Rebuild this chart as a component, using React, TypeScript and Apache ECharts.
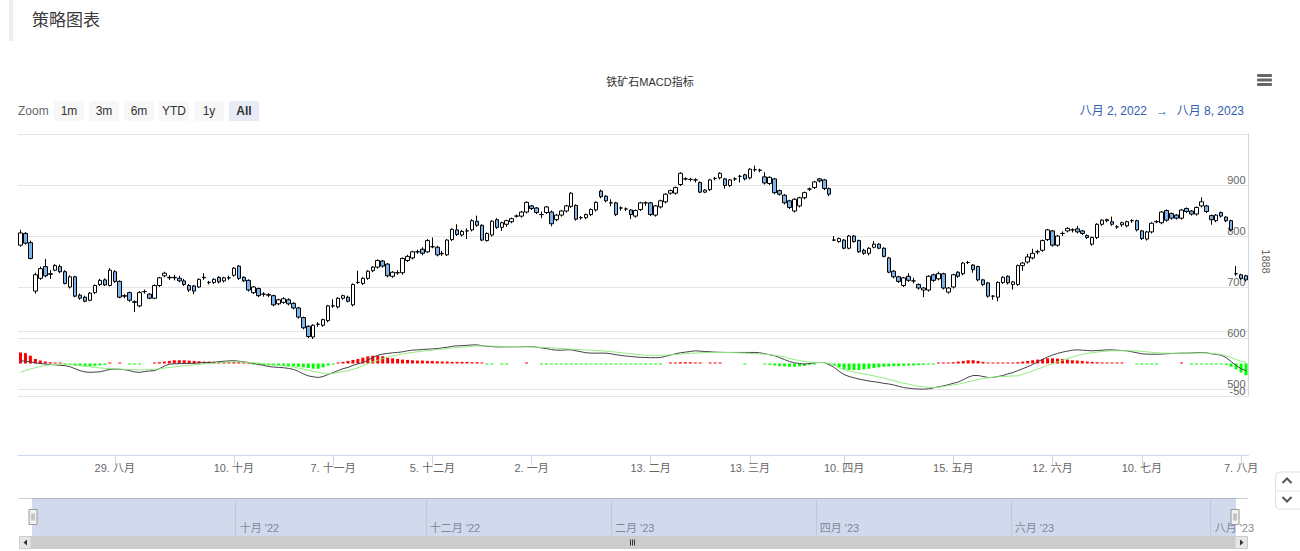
import React, { useEffect, useRef } from "react";
import * as echarts from "echarts";

// ---------- DATA ----------
const tradingMonths: [string, number[]][] = [
  ["2022-08", [2, 3, 4, 5, 8, 9, 10, 11, 12, 15, 16, 17, 18, 19, 22, 23, 24, 25, 26, 29, 30, 31]],
  ["2022-09", [1, 2, 5, 6, 7, 8, 9, 13, 14, 15, 16, 19, 20, 21, 22, 23, 26, 27, 28, 29, 30]],
  ["2022-10", [10, 11, 12, 13, 14, 17, 18, 19, 20, 21, 24, 25, 26, 27, 28, 31]],
  ["2022-11", [1, 2, 3, 4, 7, 8, 9, 10, 11, 14, 15, 16, 17, 18, 21, 22, 23, 24, 25, 28, 29, 30]],
  ["2022-12", [1, 2, 5, 6, 7, 8, 9, 12, 13, 14, 15, 16, 19, 20, 21, 22, 23, 26, 27, 28, 29, 30]],
  ["2023-01", [3, 4, 5, 6, 9, 10, 11, 12, 13, 16, 17, 18, 19, 20, 30, 31]],
  ["2023-02", [1, 2, 3, 6, 7, 8, 9, 10, 13, 14, 15, 16, 17, 20, 21, 22, 23, 24, 27, 28]],
  ["2023-03", [1, 2, 3, 6, 7, 8, 9, 10, 13, 14, 15, 16, 17, 20, 21, 22, 23, 24, 27, 28, 29, 30, 31]],
  ["2023-04", [3, 4, 6, 7, 10, 11, 12, 13, 14, 17, 18, 19, 20, 21, 24, 25, 26, 27, 28]],
  ["2023-05", [4, 5, 8, 9, 10, 11, 12, 15, 16, 17, 18, 19, 22, 23, 24, 25, 26, 29, 30, 31]],
  ["2023-06", [1, 2, 5, 6, 7, 8, 9, 12, 13, 14, 15, 16, 19, 20, 21, 26, 27, 28, 29, 30]],
  ["2023-07", [3, 4, 5, 6, 7, 10, 11, 12, 13, 14, 17, 18, 19, 20, 21, 24, 25, 26, 27, 28, 31]],
  ["2023-08", [1, 2, 3, 4, 7, 8]],
];

const xTickDates = ["2022-08-29", "2022-10-10", "2022-11-07", "2022-12-05", "2023-01-02", "2023-02-13", "2023-03-13", "2023-04-10", "2023-05-15", "2023-06-12", "2023-07-10", "2023-08-07"];
const xTickLabels = ["29. 八月", "10. 十月", "7. 十一月", "5. 十二月", "2. 一月", "13. 二月", "13. 三月", "10. 四月", "15. 五月", "12. 六月", "10. 七月", "7. 八月"];

const navTickDates = ["2022-10-01", "2022-12-01", "2023-02-01", "2023-04-01", "2023-06-01", "2023-08-01"];
const navTickLabels = ["十月 '22", "十二月 '22", "二月 '23", "四月 '23", "六月 '23", "八月 '23"];

const priceMin = 500;
const priceMax = 1000;
const priceStep = 100;
const macdMin = -50;
const macdMax = 50;

const zoomButtons = ["1m", "3m", "6m", "YTD", "1y", "All"];
const rangeFrom = "八月 2, 2022";
const rangeTo = "八月 8, 2023";

// [open, close, low, high]
const ohlc: number[][] = [
  [782, 806, 779, 812], [805, 786, 783, 808], [787, 756, 754, 791], [692, 724, 687, 728], [717, 736, 714, 740],
  [740, 722, 719, 755], [726, 725, 716, 733], [733, 742, 731, 745], [740, 730, 727, 744], [730, 707, 705, 733],
  [700, 720, 697, 723], [720, 682, 680, 722], [684, 678, 675, 687], [680, 672, 670, 683], [674, 688, 672, 690],
  [689, 703, 686, 705], [705, 713, 702, 716], [714, 704, 702, 717], [703, 733, 701, 737], [730, 711, 708, 733],
  [711, 680, 678, 713], [683, 682, 678, 686], [689, 674, 671, 691], [671, 670, 651, 674], [663, 689, 660, 692],
  [691, 691, 687, 695], [686, 678, 676, 688], [678, 703, 676, 705], [703, 718, 700, 720], [722, 727, 719, 730],
  [719, 718, 714, 723], [719, 718, 713, 724], [717, 712, 709, 722], [712, 705, 702, 716], [703, 694, 690, 706],
  [702, 692, 686, 704], [700, 715, 698, 717], [719, 718, 714, 727], [709, 709, 705, 712], [709, 715, 706, 717],
  [719, 710, 707, 721], [712, 718, 709, 720], [718, 718, 714, 722], [723, 737, 720, 739], [741, 717, 714, 743],
  [719, 712, 710, 721], [713, 694, 691, 715], [689, 700, 686, 702], [697, 683, 680, 699], [686, 686, 681, 690],
  [685, 684, 680, 688], [683, 665, 662, 685], [667, 675, 664, 677], [670, 677, 667, 680], [675, 667, 664, 678],
  [668, 659, 656, 670], [659, 641, 638, 661], [640, 620, 617, 642], [623, 603, 600, 625], [602, 625, 598, 627],
  [627, 627, 622, 631], [625, 636, 622, 638], [634, 663, 631, 665], [663, 663, 659, 676], [661, 678, 658, 680],
  [678, 683, 675, 685], [680, 672, 670, 683], [665, 705, 662, 707], [709, 709, 706, 732], [707, 717, 704, 719],
  [717, 731, 714, 733], [732, 739, 729, 741], [739, 752, 736, 754], [751, 741, 738, 753], [745, 722, 719, 747],
  [721, 729, 718, 731], [728, 728, 724, 733], [728, 756, 724, 758], [752, 760, 749, 763], [757, 769, 754, 771],
  [769, 769, 765, 773], [774, 766, 762, 778], [769, 791, 767, 794], [779, 779, 776, 797], [778, 763, 760, 781],
  [765, 766, 761, 771], [763, 792, 761, 794], [793, 813, 790, 815], [812, 803, 800, 823], [802, 809, 799, 812],
  [810, 810, 794, 815], [812, 830, 809, 833], [829, 821, 818, 840], [821, 792, 790, 823], [791, 805, 789, 807],
  [802, 829, 799, 831], [832, 817, 814, 835], [817, 826, 810, 828], [823, 830, 818, 832], [828, 834, 825, 836],
  [839, 839, 836, 842], [839, 847, 836, 849], [847, 866, 844, 868], [859, 854, 851, 861], [855, 846, 843, 857],
  [842, 842, 835, 848], [846, 857, 843, 859], [847, 824, 819, 850], [832, 841, 829, 843], [841, 849, 838, 851],
  [849, 859, 846, 861], [858, 884, 855, 886], [860, 833, 830, 862], [836, 836, 832, 839], [836, 842, 833, 844],
  [842, 852, 839, 854], [851, 866, 848, 868], [888, 877, 874, 891], [878, 869, 866, 880], [865, 865, 858, 872],
  [865, 842, 839, 867], [855, 855, 850, 858], [853, 853, 849, 856], [851, 842, 833, 853], [839, 850, 836, 852],
  [852, 865, 849, 867], [865, 865, 859, 868], [865, 842, 839, 867], [841, 859, 838, 861], [857, 869, 854, 871],
  [867, 882, 864, 884], [884, 889, 881, 891], [884, 895, 881, 897], [901, 923, 898, 925], [912, 912, 909, 915],
  [911, 911, 907, 914], [910, 910, 905, 913], [905, 886, 884, 907], [886, 890, 884, 892], [891, 910, 888, 912],
  [913, 913, 909, 916], [914, 923, 911, 925], [912, 899, 893, 914], [899, 910, 896, 912], [912, 912, 908, 915],
  [917, 917, 905, 920], [920, 912, 909, 922], [914, 931, 911, 933], [930, 930, 926, 938], [929, 929, 925, 932],
  [916, 904, 901, 925], [903, 915, 900, 917], [912, 885, 882, 914], [889, 882, 879, 891], [880, 865, 862, 882],
  [869, 856, 853, 871], [849, 872, 846, 874], [859, 875, 856, 877], [875, 885, 872, 887], [892, 892, 888, 895],
  [895, 906, 892, 908], [912, 908, 905, 914], [910, 893, 890, 912], [893, 882, 878, 895], [792, 792, 790, 800],
  [789, 795, 787, 797], [792, 776, 774, 794], [776, 800, 774, 802], [800, 789, 787, 802], [791, 769, 767, 793],
  [772, 766, 763, 775], [766, 776, 762, 778], [778, 784, 776, 790], [784, 776, 774, 786], [776, 760, 758, 778],
  [757, 729, 727, 759], [731, 720, 717, 733], [720, 711, 708, 722], [703, 718, 700, 720], [721, 713, 710, 727],
  [712, 712, 707, 718], [705, 698, 695, 707], [694, 698, 680, 700], [694, 721, 691, 723], [724, 713, 710, 726],
  [716, 726, 713, 730], [726, 698, 695, 728], [690, 698, 687, 700], [700, 724, 697, 726], [729, 721, 718, 731],
  [726, 747, 723, 749], [748, 748, 745, 751], [743, 734, 728, 745], [740, 714, 711, 742], [714, 705, 702, 716],
  [708, 682, 679, 710], [682, 682, 675, 684], [680, 709, 672, 711], [709, 719, 706, 721], [721, 708, 705, 723],
  [705, 710, 695, 712], [705, 742, 702, 744], [742, 747, 732, 749], [749, 759, 746, 765], [757, 766, 754, 775],
  [769, 769, 764, 773], [772, 791, 769, 793], [793, 812, 790, 814], [810, 782, 779, 812], [782, 800, 779, 802],
  [805, 805, 800, 809], [810, 815, 807, 817], [812, 812, 807, 815], [814, 808, 805, 820], [810, 805, 802, 812],
  [801, 797, 794, 803], [784, 797, 781, 799], [797, 823, 794, 825], [823, 831, 820, 833], [830, 832, 827, 834],
  [828, 823, 820, 838], [818, 818, 814, 821], [822, 826, 818, 828], [820, 828, 817, 830], [830, 830, 826, 833],
  [830, 812, 809, 832], [810, 795, 792, 812], [794, 808, 791, 810], [808, 825, 805, 827], [828, 828, 825, 831],
  [826, 847, 823, 849], [850, 831, 828, 852], [844, 835, 832, 846], [841, 835, 832, 843], [835, 851, 832, 853],
  [854, 848, 845, 856], [849, 843, 840, 851], [843, 856, 840, 858], [859, 867, 856, 876], [859, 848, 845, 861],
  [840, 832, 822, 842], [830, 841, 827, 843], [846, 839, 836, 848], [837, 830, 827, 839], [830, 812, 809, 832],
  [726, 726, 722, 741], [724, 717, 714, 726], [722, 714, 711, 724],
];

const dif: number[] = [
  4.3, 3.5, 2.5, 1, 0, -0.8, -1.5, -2, -2.8, -3.3,
  -5, -8, -11, -13, -13.6, -13.2, -12.8, -11, -9, -8.5,
  -9, -9.5, -11, -13, -13.6, -12.5, -11.5, -11, -8, -4,
  -1, -0.5, -0.3, 0, 0, 0.5, 1, 1.3, 1.5, 2,
  2.8, 3.5, 4, 4.3, 3.5, 2.5, 1.5, 0, -1.5, -3,
  -4.6, -5.5, -6, -6.5, -7.5, -9, -12, -16, -19, -20.5,
  -21.5, -20, -17, -14, -11, -8, -6, -3, -0.5, 1.5,
  5, 9, 12.5, 14.5, 15.5, 16.5, 17, 18, 19.5, 20.5,
  21, 21.5, 22, 22.5, 23, 24, 25, 26.5, 27.2, 27.5,
  28, 28.5, 28.7, 27.5, 26.3, 26, 25.5, 25.5, 25.6, 25.6,
  25.7, 25.8, 26, 26, 25, 24, 23, 21.5, 20.5, 20.5,
  21, 21, 19.5, 18, 16.5, 16, 15.9, 16, 15.9, 15,
  13.5, 12.5, 11.5, 10.8, 10, 9.5, 9.2, 9, 9, 9.2,
  11, 13, 15, 16.5, 17.5, 18.5, 19.5, 19, 18.5, 18,
  17.5, 17.2, 17, 17, 17, 17, 17, 17, 17, 16.5,
  15, 13.5, 12, 9, 6, 3, 1, 0, -1, 0,
  1, 1.5, 1.5, -2, -6, -12, -17, -20, -22, -24,
  -25.5, -27, -28, -29, -30.5, -31.5, -33, -35, -37, -38,
  -38.8, -39.3, -39.5, -39, -37.5, -36, -34.4, -32.5, -30.5, -28.5,
  -25, -21, -18.5, -18.5, -20, -21.5, -21.5, -20, -18.5, -16,
  -14, -11, -8, -5, -1.5, 2.5, 6.5, 10, 13, 15.5,
  17.5, 19, 20.5, 21, 20.5, 20, 19.5, 20, 20.5, 21,
  21, 20.5, 20, 19.5, 18, 16.5, 15, 14.4, 14.2, 14.3,
  14.4, 15, 15.3, 15.6, 16, 16, 16.3, 16.7, 17, 16.5,
  15, 14, 12.8, 9, 3, -3, -8, -11,
];

const dea: number[] = [
  -13.6, -11, -8.5, -6.5, -4.6, -3.2, -2, -1.5, -1, -1.2,
  -1.8, -2.5, -3.2, -4, -5, -6, -6.8, -7.5, -7.8, -8.2,
  -8.6, -9, -9.3, -9.6, -9.8, -9.7, -9.3, -9, -8.3, -7,
  -6, -5.2, -4.4, -3.6, -2.8, -2, -1.2, -0.5, 0, 0.6,
  1.2, 1.8, 2.3, 2.6, 2.5, 2.2, 1.8, 1.2, 0.5, -0.5,
  -1.2, -2, -2.8, -3.5, -4.3, -5.5, -7, -8.5, -10.5, -12,
  -13.6, -15, -16, -15.5, -14, -12.5, -11, -9, -6.5, -3.5,
  -0.5, 2.5, 5, 7.5, 9.5, 11.5, 13, 14.5, 15.8, 17,
  18, 19, 19.8, 20.6, 21.5, 22.3, 23, 23.8, 24.5, 25.2,
  25.8, 26.5, 27, 27, 26.9, 26.8, 26.6, 26.4, 26.2, 26.1,
  26, 25.8, 25.6, 25.4, 25.1, 24.8, 24.5, 24.1, 23.5, 23,
  22.6, 22.2, 21.7, 21.3, 20.8, 20.4, 20, 19.5, 19, 18.3,
  17.5, 16.7, 15.9, 15, 14.2, 13.5, 12.8, 12.6, 12.5, 12.6,
  13, 13.4, 13.8, 14.4, 15, 15.6, 16, 16.4, 16.7, 16.9,
  17, 17, 17, 16.8, 16.6, 16.3, 16, 15.6, 15.2, 14.8,
  14.4, 13.5, 12.5, 11.3, 10, 7.5, 6, 4.5, 3.2, 2.2,
  1.7, 1.5, 1.2, 0, -2.5, -6.5, -9.5, -11.5, -13.2, -14.8,
  -16.3, -17.5, -19, -20.8, -22.5, -24.5, -26.5, -28.5, -30.5, -31.8,
  -33.5, -35, -36, -36.6, -37, -36.5, -35.3, -34.2, -33, -31.8,
  -30, -28.2, -26.5, -25, -23, -22, -21, -20.5, -20, -19.5,
  -19.2, -19, -16.5, -14, -11, -8.5, -6, -3, -0.5, 2.5,
  5, 7.5, 10, 12, 14, 15.5, 16.7, 17.6, 18.4, 19,
  19.5, 19.6, 19.6, 19.6, 19.5, 19.3, 18.8, 18, 17.2, 16.5,
  16, 15.9, 15.8, 15.8, 15.8, 15.9, 16, 16.1, 16.2, 16.1,
  15.6, 14.8, 13.8, 12, 9, 6, 3.5, 1.5,
];

const hist: number[] = [
  17, 16, 12, 7, 4.6, 3, 2, 1.5, 1, -1,
  -2, -3, -4, -4.5, -4, -3.5, -3, -2, 1, 0,
  1, 0, -1, -1, -1, 0, 0, 1, 2, 3,
  4, 5, 5, 5, 4.5, 4, 3.5, 3, 3, 2.5,
  2.5, 2.5, 2, 2, 2, 1.5, 0.5, -1, -2, -2.5,
  -3, -3, -3, -3.5, -4, -4.5, -5, -6, -7, -8,
  -8, -6, -3, -1, 1, 2.5, 4, 5.5, 7, 9,
  11, 12, 12, 11, 9, 8, 7, 6, 5.5, 5,
  4.5, 4.5, 4, 4, 3.5, 3, 3, 2.5, 2.5, 2.5,
  2.5, 2, 2, 0.5, -0.5, -0.5, 0, -0.5, -0.5, 0,
  0, 0, 0.5, 0, 0, -0.5, -1, -1, -1, -1,
  -0.5, -1, -1.5, -1.5, -1, -1, -1, -1, -1.5, -1.5,
  -1.5, -1.5, -1, -1, -1, -1, -1.5, -1.5, -1, -1,
  0, 1, 1.5, 2, 2, 2, 1.5, 1, 0, 1,
  1, 1, 0, 0, 0, 0, -0.5, 0, 0, 0,
  -1, -2, -3, -4, -4.5, -5, -5, -4.5, -3.5, -2,
  -1, 0, 0, -1, -3, -6, -9, -10, -10, -10,
  -9, -8, -7, -6, -5, -4.5, -4, -4, -3.5, -3,
  -3, -2.5, -2, -1.5, -1, 0.5, 1, 1.5, 2, 3,
  4, 5, 5, 4, 2.5, 1, 0.5, 0.5, 0.5, 1,
  1.5, 2, 3, 4, 5, 6, 7, 8, 8, 7.5,
  7, 6, 5, 4.5, 4, 3, 2.5, 2, 1.5, 1,
  1, 1, 0.5, 0, 0, -1, -1.5, -1.5, -1, -1,
  0, 0, 0, 0, 0.5, 0, -0.5, -0.5, -0.5, -1,
  -1, -1, -1.5, -2, -5, -9, -14, -18,
];

// ---------- DERIVED ----------
const categories: string[] = tradingMonths.flatMap(([m, days]) =>
  days.map((d) => `${m}-${String(d).padStart(2, "0")}`)
);

const xTickMap = new Map<number, string>();
xTickDates.forEach((d, i) => {
  const idx = categories.findIndex((c) => c >= d);
  if (idx >= 0) xTickMap.set(idx, xTickLabels[i]);
});

const navTickMap = new Map<number, string>();
navTickDates.forEach((d, i) => {
  const nextIdx = categories.findIndex((c) => c > d);
  const idx = nextIdx === -1 ? categories.length - 1 : nextIdx - 1;
  navTickMap.set(idx, navTickLabels[i]);
});

const FONT = '"Liberation Sans", Arial, "Noto Sans CJK SC", sans-serif';

function buildOption(): any {
  const plotLeft = 18;
  const plotWidth = 1230.5;
  const graphic: any[] = [
    { type: "rect", silent: true, shape: { x: 9, y: 0, width: 4, height: 41 }, style: { fill: "#eeeeee" } },
    ...[74, 78.5, 83].map((y) => ({
      type: "rect", silent: true, shape: { x: 1257, y, width: 15, height: 3, r: 1 }, style: { fill: "#666666" },
    })),
    { type: "text", silent: true, style: { text: "Zoom", x: 18, y: 111, fill: "#666666", font: `12px ${FONT}`, verticalAlign: "middle" } },
    ...zoomButtons.map((b, i) => ({
      type: "group",
      children: [
        { type: "rect", silent: true, shape: { x: 54 + 35 * i, y: 101, width: 30, height: 20, r: 2 }, style: { fill: i === zoomButtons.length - 1 ? "#e6ebf5" : "#f7f7f7" } },
        {
          type: "text", silent: true,
          style: {
            text: b, x: 69 + 35 * i, y: 111, align: "center", verticalAlign: "middle", fill: "#333333",
            font: `${i === zoomButtons.length - 1 ? "bold " : ""}12px ${FONT}`,
          },
        },
      ],
    })),
    { type: "text", silent: true, style: { text: rangeFrom, x: 1147, y: 111, align: "right", verticalAlign: "middle", fill: "#335cad", font: `12px ${FONT}` } },
    { type: "text", silent: true, style: { text: "→", x: 1162, y: 111, align: "center", verticalAlign: "middle", fill: "#335cad", font: `12px ${FONT}` } },
    { type: "text", silent: true, style: { text: rangeTo, x: 1244, y: 111, align: "right", verticalAlign: "middle", fill: "#335cad", font: `12px ${FONT}` } },
    // navigator outline
    { type: "line", silent: true, shape: { x1: 19, y1: 498.5, x2: 1248, y2: 498.5 }, style: { stroke: "#cccccc", lineWidth: 1 } },
    // scrollbar
    { type: "rect", silent: true, shape: { x: 19, y: 536, width: 1229, height: 13 }, style: { fill: "#f2f2f2" } },
    { type: "rect", silent: true, shape: { x: 31, y: 536, width: 1204, height: 13 }, style: { fill: "#cccccc" } },
    { type: "rect", silent: true, shape: { x: 19.5, y: 536.5, width: 11.5, height: 12 }, style: { fill: "#e6e6e6", stroke: "#cccccc", lineWidth: 1 } },
    { type: "polygon", silent: true, shape: { points: [[27, 539.5], [27, 545.5], [23.5, 542.5]] }, style: { fill: "#333333" } },
    { type: "rect", silent: true, shape: { x: 1235, y: 536.5, width: 12.5, height: 12 }, style: { fill: "#e6e6e6", stroke: "#cccccc", lineWidth: 1 } },
    { type: "polygon", silent: true, shape: { points: [[1240, 539.5], [1240, 545.5], [1243.5, 542.5]] }, style: { fill: "#333333" } },
    ...[630.5, 632.5, 634.5].map((x) => ({
      type: "line", silent: true, shape: { x1: x, y1: 539.5, x2: x, y2: 545.5 }, style: { stroke: "#333333", lineWidth: 1 },
    })),
    // page scroll widget
    { type: "rect", silent: true, shape: { x: 1275.5, y: 472, width: 30, height: 37, r: 4 }, style: { fill: "#ffffff", stroke: "#e0e0e0", lineWidth: 1 } },
    { type: "line", silent: true, shape: { x1: 1275.5, y1: 491, x2: 1300, y2: 491 }, style: { stroke: "#e6e6e6", lineWidth: 1 } },
    { type: "polyline", silent: true, shape: { points: [[1282.5, 483], [1287, 478.5], [1291.5, 483]] }, style: { stroke: "#555555", lineWidth: 2, fill: null } },
    { type: "polyline", silent: true, shape: { points: [[1282.5, 497], [1287, 501.5], [1291.5, 497]] }, style: { stroke: "#555555", lineWidth: 2, fill: null } },
  ];

  return {
    animation: false,
    backgroundColor: "#ffffff",
    textStyle: { fontFamily: FONT },
    title: [
      { text: "策略图表", left: 27, top: 7, textStyle: { fontSize: 17, fontWeight: "normal", color: "#3a3a3a", fontFamily: FONT } },
      { text: "铁矿石MACD指标", left: "center", top: 71, textStyle: { fontSize: 11, fontWeight: "normal", color: "#333333", fontFamily: FONT } },
    ],
    grid: [
      { left: plotLeft, top: 134, width: plotWidth, height: 255 },
      { left: plotLeft, top: 331, width: plotWidth, height: 65 },
      { left: 31, top: 498, width: 1204, height: 38 },
    ],
    xAxis: [
      { type: "category", gridIndex: 0, data: categories, show: false },
      {
        type: "category", gridIndex: 1, data: categories, offset: 59, position: "bottom",
        axisLine: { show: true, onZero: false, lineStyle: { color: "#ccd6eb", width: 1 } },
        axisTick: { show: true, interval: (i: number) => xTickMap.has(i), alignWithLabel: true, length: 10, lineStyle: { color: "#ccd6eb" } },
        axisLabel: {
          interval: (i: number) => xTickMap.has(i),
          formatter: (_v: string, i: number) => xTickMap.get(i) ?? "",
          color: "#666666", fontSize: 11, margin: 7, fontFamily: FONT,
        },
        splitLine: { show: false },
      },
      {
        type: "category", gridIndex: 2, data: categories, boundaryGap: false,
        axisLine: { show: false }, axisTick: { show: false },
        axisLabel: {
          inside: true, interval: (i: number) => navTickMap.has(i),
          formatter: (_v: string, i: number) => navTickMap.get(i) ?? "",
          align: "left", verticalAlign: "bottom", margin: 3, padding: [0, 0, 0, 4],
          color: "#8a8a8a", fontSize: 11, fontFamily: FONT,
        },
        splitLine: { show: true, interval: (i: number) => navTickMap.has(i), lineStyle: { color: "#e6e6e6", width: 1 } },
      },
    ],
    yAxis: [
      {
        type: "value", gridIndex: 0, position: "right", min: priceMin, max: priceMax, interval: priceStep,
        axisLine: { show: true, lineStyle: { color: "#ccd6eb" } }, axisTick: { show: false },
        splitLine: { lineStyle: { color: "#e6e6e6" } },
        axisLabel: {
          inside: true, margin: 3, verticalAlign: "bottom", color: "#666666", fontSize: 11, fontFamily: FONT,
          formatter: (v: number) => (v === priceMax ? "" : String(v)),
        },
        name: "1888", nameLocation: "middle", nameRotate: -90, nameGap: 12,
        nameTextStyle: { color: "#666666", fontSize: 11, fontFamily: FONT },
      },
      {
        type: "value", gridIndex: 1, position: "right", min: macdMin, max: macdMax, interval: macdMax - macdMin,
        axisLine: { show: true, lineStyle: { color: "#ccd6eb" } }, axisTick: { show: false },
        splitLine: { lineStyle: { color: "#e6e6e6" } },
        axisLabel: {
          inside: true, margin: 3, verticalAlign: "bottom", color: "#666666", fontSize: 11, fontFamily: FONT,
          formatter: (v: number) => (v === macdMin ? String(v) : ""),
        },
      },
      { type: "value", gridIndex: 2, show: false },
    ],
    dataZoom: [
      {
        type: "slider", xAxisIndex: [0, 1, 2], filterMode: "none", start: 0, end: 100,
        left: 31, right: 65, top: 498, height: 38,
        backgroundColor: "transparent", borderColor: "transparent",
        fillerColor: "rgba(102,133,194,0.3)",
        showDataShadow: false, showDetail: false, brushSelect: false, moveHandleSize: 0,
        dataBackground: { lineStyle: { opacity: 0 }, areaStyle: { opacity: 0 } },
        selectedDataBackground: { lineStyle: { opacity: 0 }, areaStyle: { opacity: 0 } },
        handleIcon: "path://M0,0 h8 v15 h-8 Z M3,4 v7 M5,4 v7",
        handleSize: 15,
        handleStyle: { color: "#f2f2f2", borderColor: "#999999", borderWidth: 1 },
        moveHandleStyle: { opacity: 0 },
        emphasis: { handleStyle: { color: "#f2f2f2", borderColor: "#999999" }, moveHandleStyle: { opacity: 0 } },
      },
    ],
    series: [
      {
        type: "candlestick", name: "1888", xAxisIndex: 0, yAxisIndex: 0, data: ohlc, barWidth: 4,
        itemStyle: { color: "#ffffff", color0: "#7cb5ec", borderColor: "#000000", borderColor0: "#000000", borderWidth: 1 },
      },
      {
        type: "bar", name: "MACD", xAxisIndex: 1, yAxisIndex: 1, barWidth: 3, barMinHeight: 1,
        data: hist.map((v) => (v === 0 ? null : { value: v, itemStyle: { color: v > 0 ? "#ff0000" : "#00ff00" } })),
      },
      {
        type: "line", name: "DIF", xAxisIndex: 1, yAxisIndex: 1, data: dif, symbol: "none",
        lineStyle: { color: "#434348", width: 1 },
      },
      {
        type: "line", name: "DEA", xAxisIndex: 1, yAxisIndex: 1, data: dea, symbol: "none",
        lineStyle: { color: "#90ed7d", width: 1 },
      },
    ],
    graphic,
  };
}

export default function App() {
  const ref = useRef<HTMLDivElement>(null);
  useEffect(() => {
    if (!ref.current) return;
    const chart = echarts.init(ref.current, null, { renderer: "svg" });
    chart.setOption(buildOption());
    return () => chart.dispose();
  }, []);
  return (
    <div
      ref={ref}
      style={{ position: "absolute", left: 0, top: 0, width: 1300, height: 551, background: "#ffffff" }}
    />
  );
}
